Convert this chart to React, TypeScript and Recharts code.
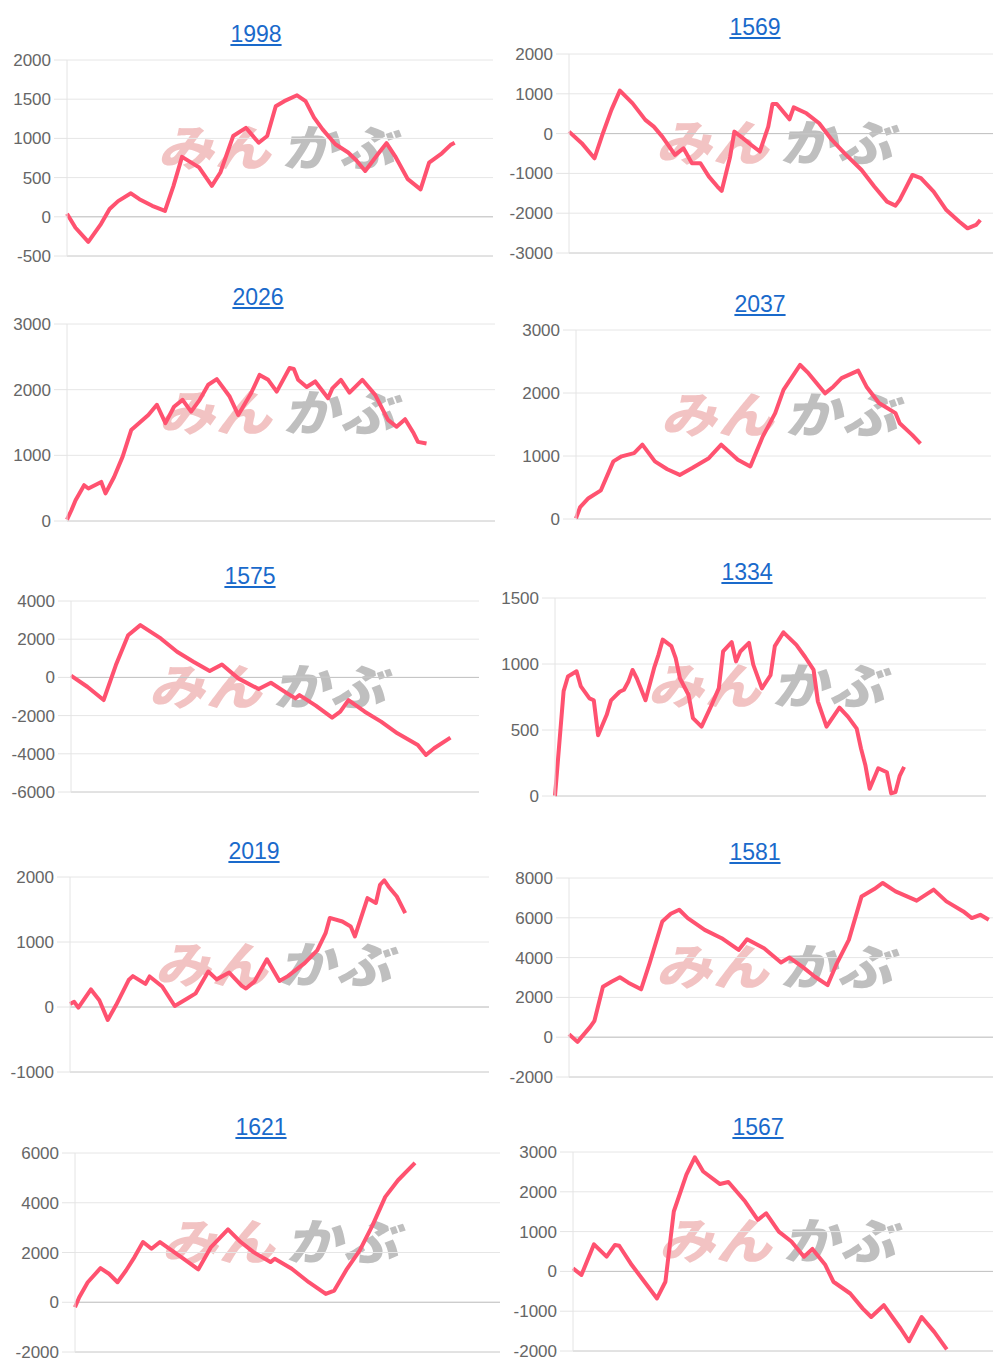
import React from 'react';
import { LineChart, Line, XAxis, YAxis, CartesianGrid, ReferenceLine } from 'recharts';

const FONT = '"Liberation Sans", Arial, Helvetica, sans-serif';
const RED = '#ff5270';

// x = position in the period (0..100), v = cumulative result
const days1998 = [0, 2, 5, 8, 10, 12, 15, 17, 20, 23, 25, 27, 31, 34, 36, 39, 42, 45, 47, 49, 51, 54, 56, 58, 60, 63, 66, 68, 70, 73, 75, 77, 80, 83, 85, 88, 90, 91];
const vals1998 = [40, -140, -320, -90, 100, 200, 300, 225, 140, 75, 395, 765, 630, 395, 565, 1030, 1135, 945, 1030, 1410, 1475, 1550, 1475, 1265, 1115, 925, 820, 715, 585, 800, 940, 775, 480, 350, 690, 810, 915, 945];
const ticks1998 = [-500, 0, 500, 1000, 1500, 2000];

const days1569 = [0, 3, 6, 8, 10, 12, 15, 18, 20, 22, 25, 27, 29, 31, 33, 35, 36, 38, 39, 41, 43, 45, 47, 48, 49, 52, 53, 56, 59, 62, 65, 69, 72, 75, 77, 78, 81, 83, 86, 89, 92, 94, 96, 97];
const vals1569 = [50, -240, -620, 10, 595, 1080, 760, 345, 175, -75, -535, -370, -745, -745, -1080, -1330, -1440, -580, 50, -115, -285, -450, 175, 745, 745, 360, 660, 510, 260, -160, -495, -915, -1330, -1710, -1810, -1665, -1040, -1120, -1455, -1920, -2210, -2380, -2295, -2170];
const ticks1569 = [-3000, -2000, -1000, 0, 1000, 2000];

const days2026 = [0, 1, 2, 4, 5, 8, 9, 11, 13, 15, 19, 21, 23, 25, 27, 29, 31, 33, 35, 38, 40, 43, 45, 47, 49, 52, 53, 54, 56, 58, 61, 62, 64, 66, 69, 72, 75, 77, 79, 81, 82, 84];
const vals2026 = [20, 160, 315, 545, 495, 595, 420, 670, 980, 1385, 1615, 1770, 1490, 1740, 1845, 1665, 1845, 2075, 2160, 1895, 1615, 1945, 2225, 2150, 1970, 2330, 2315, 2150, 2040, 2125, 1870, 2020, 2150, 1955, 2150, 1920, 1540, 1435, 1550, 1335, 1205, 1180];
const ticks2026 = [0, 1000, 2000, 3000];

const days2037 = [0, 1, 3, 6, 9, 11, 14, 16, 19, 22, 25, 28, 32, 35, 39, 42, 45, 48, 50, 54, 56, 60, 62, 64, 68, 70, 73, 77, 78, 81, 83];
const vals2037 = [10, 190, 330, 455, 915, 995, 1045, 1180, 915, 790, 700, 810, 965, 1180, 940, 835, 1310, 1680, 2050, 2445, 2315, 1995, 2100, 2235, 2355, 2100, 1840, 1680, 1520, 1335, 1195];
const ticks2037 = [0, 1000, 2000, 3000];

const days1575 = [0, 4, 8, 11, 14, 17, 22, 26, 30, 34, 37, 41, 46, 49, 53, 55, 56, 60, 64, 66, 68, 72, 76, 80, 85, 87, 89, 93];
const vals1575 = [90, -490, -1185, 645, 2210, 2735, 2040, 1340, 820, 330, 680, -50, -610, -280, -835, -1100, -925, -1480, -2110, -1795, -1185, -1795, -2315, -2925, -3535, -4060, -3710, -3155];
const ticks1575 = [-6000, -4000, -2000, 0, 2000, 4000];

const days1334 = [0, 2, 3, 5, 6, 8, 9, 10, 12, 13, 15, 16, 17, 18, 19, 21, 23, 24, 25, 27, 28, 29, 31, 32, 34, 36, 38, 39, 41, 42, 43, 45, 46, 48, 50, 51, 53, 56, 58, 60, 61, 63, 66, 68, 70, 71, 72, 73, 75, 77, 78, 79, 80, 81];
const vals1334 = [0, 795, 905, 945, 830, 740, 725, 460, 615, 725, 790, 805, 865, 955, 890, 725, 970, 1070, 1185, 1135, 1045, 890, 765, 590, 525, 665, 815, 1095, 1165, 1020, 1095, 1160, 995, 815, 915, 1135, 1240, 1145, 1055, 955, 715, 525, 670, 600, 510, 360, 235, 55, 210, 180, 20, 30, 155, 220];
const ticks1334 = [0, 500, 1000, 1500];

const days2019 = [0, 1, 2, 5, 7, 9, 11, 14, 15, 18, 19, 22, 25, 28, 30, 33, 35, 38, 41, 42, 44, 47, 50, 52, 56, 59, 61, 62, 65, 67, 68, 71, 73, 74, 75, 76, 78, 80];
const vals2019 = [45, 80, -10, 270, 105, -200, 30, 415, 475, 355, 470, 315, 15, 130, 210, 545, 425, 530, 325, 285, 390, 735, 400, 475, 675, 870, 1135, 1370, 1315, 1240, 1085, 1675, 1600, 1880, 1950, 1855, 1700, 1445];
const ticks2019 = [-1000, 0, 1000, 2000];

const days1581 = [0, 2, 5, 6, 8, 10, 12, 14, 17, 19, 22, 24, 26, 28, 32, 36, 40, 42, 46, 50, 52, 55, 58, 61, 63, 66, 69, 72, 74, 77, 82, 86, 89, 93, 95, 97, 99];
const vals1581 = [150, -235, 520, 825, 2540, 2790, 3010, 2740, 2405, 3715, 5815, 6205, 6405, 5985, 5395, 4975, 4385, 4925, 4470, 3750, 4000, 3545, 3040, 2620, 3630, 4890, 7075, 7445, 7750, 7330, 6860, 7415, 6825, 6320, 5985, 6150, 5900];
const ticks1581 = [-2000, 0, 2000, 4000, 6000, 8000];

const days1621 = [0, 1, 3, 6, 8, 10, 12, 14, 16, 18, 20, 25, 29, 32, 36, 39, 42, 46, 47, 51, 55, 59, 61, 64, 67, 70, 73, 76, 80];
const vals1621 = [-200, 200, 805, 1370, 1145, 805, 1275, 1815, 2420, 2150, 2420, 1815, 1320, 2220, 2930, 2420, 2015, 1615, 1750, 1345, 805, 335, 470, 1345, 2085, 3090, 4235, 4905, 5605];
const ticks1621 = [-2000, 0, 2000, 4000, 6000];

const days1567 = [0, 2, 5, 8, 10, 11, 14, 17, 20, 22, 24, 27, 29, 31, 35, 37, 41, 44, 46, 49, 52, 55, 57, 60, 62, 66, 69, 71, 74, 78, 80, 83, 86, 89];
const vals1567 = [75, -90, 680, 370, 665, 645, 160, -260, -680, -260, 1505, 2430, 2865, 2510, 2195, 2245, 1755, 1295, 1460, 1000, 750, 370, 565, 175, -260, -555, -935, -1145, -850, -1435, -1755, -1145, -1520, -1960];
const ticks1567 = [-2000, -1000, 0, 1000, 2000, 3000];

const charts = [
  { title: '1998', days: days1998, vals: vals1998, ticks: ticks1998 },
  { title: '1569', days: days1569, vals: vals1569, ticks: ticks1569 },
  { title: '2026', days: days2026, vals: vals2026, ticks: ticks2026 },
  { title: '2037', days: days2037, vals: vals2037, ticks: ticks2037 },
  { title: '1575', days: days1575, vals: vals1575, ticks: ticks1575 },
  { title: '1334', days: days1334, vals: vals1334, ticks: ticks1334 },
  { title: '2019', days: days2019, vals: vals2019, ticks: ticks2019 },
  { title: '1581', days: days1581, vals: vals1581, ticks: ticks1581 },
  { title: '1621', days: days1621, vals: vals1621, ticks: ticks1621 },
  { title: '1567', days: days1567, vals: vals1567, ticks: ticks1567 },
];

// plot box (left/right/top/bottom), title centre + cap top, watermark centre
const boxes = [
  { pl: 67, pr: 493, pt: 60, pb: 256, tx: 256, ty: 25, wx: 282, wy: 145 },
  { pl: 569, pr: 993, pt: 54, pb: 253, tx: 755, ty: 18, wx: 780, wy: 140 },
  { pl: 67, pr: 495, pt: 324, pb: 521, tx: 258, ty: 288, wx: 283, wy: 410 },
  { pl: 576, pr: 991, pt: 330, pb: 519, tx: 760, ty: 295, wx: 785, wy: 412 },
  { pl: 71, pr: 479, pt: 601, pb: 792, tx: 250, ty: 567, wx: 273, wy: 684 },
  { pl: 555, pr: 986, pt: 598, pb: 796, tx: 747, ty: 563, wx: 772, wy: 683 },
  { pl: 70, pr: 489, pt: 877, pb: 1072, tx: 254, ty: 842, wx: 279, wy: 962 },
  { pl: 569, pr: 993, pt: 878, pb: 1077, tx: 755, ty: 843, wx: 780, wy: 964 },
  { pl: 75, pr: 500, pt: 1153, pb: 1352, tx: 261, ty: 1118, wx: 286, wy: 1239 },
  { pl: 573, pr: 993, pt: 1152, pb: 1351, tx: 758, ty: 1118, wx: 783, wy: 1238 },
];

const AXIS_W = 66;

function Watermark({ cx, cy }: { cx: number; cy: number }) {
  return (
    <div
      style={{
        position: 'absolute',
        left: cx - 130,
        top: cy - 30,
        width: 260,
        height: 60,
        display: 'flex',
        alignItems: 'center',
        justifyContent: 'center',
        transform: 'skewX(-14deg) scaleY(0.88)',
        fontFamily: '"Noto Sans CJK JP", sans-serif',
        fontWeight: 900,
        fontSize: 56,
        lineHeight: '60px',
        letterSpacing: 1,
        whiteSpace: 'nowrap',
      }}
    >
      <span style={{ color: '#f2c3c3' }}>みん</span>
      <span style={{ color: '#bfbfbf', marginLeft: 10 }}>かぶ</span>
    </div>
  );
}

function Panel({ chart, box }: { chart: (typeof charts)[number]; box: (typeof boxes)[number] }) {
  const data = chart.days.map((x, i) => ({ x, v: chart.vals[i] }));
  const lo = chart.ticks[0];
  const hi = chart.ticks[chart.ticks.length - 1];
  const left = box.pl - AXIS_W;
  const top = box.pt - 10;
  const width = box.pr - left + 2;
  const height = box.pb - box.pt + 20;

  return (
    <>
      <a
        href="#"
        style={{
          position: 'absolute',
          left: box.tx - 60,
          width: 120,
          top: box.ty - 4,
          textAlign: 'center',
          fontFamily: FONT,
          fontSize: 23,
          lineHeight: '26px',
          color: '#1a6acb',
          textDecoration: 'underline',
        }}
      >
        {chart.title}
      </a>
      <Watermark cx={box.wx} cy={box.wy} />
      <div style={{ position: 'absolute', left, top }}>
        <LineChart width={width} height={height} data={data} margin={{ top: 10, right: 2, bottom: 10, left: 0 }}>
          <CartesianGrid vertical={false} stroke="#e6e6e6" />
          <XAxis dataKey="x" type="number" domain={[0, 100]} hide />
          <YAxis
            type="number"
            domain={[lo, hi]}
            ticks={chart.ticks}
            interval={0}
            width={AXIS_W}
            tickSize={13}
            tickMargin={3}
            tickLine={{ stroke: '#e4e4e4' }}
            axisLine={{ stroke: '#e4e4e4' }}
            tick={{ fill: '#666', fontSize: 17, fontFamily: FONT }}
          />
          <ReferenceLine y={lo} stroke="#d2d2d2" />
          {lo < 0 && <ReferenceLine y={0} stroke="#c2c2c2" />}
          <Line
            type="linear"
            dataKey="v"
            stroke={RED}
            strokeWidth={4}
            strokeLinejoin="round"
            dot={false}
            activeDot={false}
            isAnimationActive={false}
          />
        </LineChart>
      </div>
    </>
  );
}

export default function App() {
  return (
    <div style={{ position: 'absolute', left: 0, top: 0, width: 1000, height: 1372, background: '#fff' }}>
      {charts.map((c, i) => (
        <Panel key={c.title} chart={c} box={boxes[i]} />
      ))}
    </div>
  );
}
